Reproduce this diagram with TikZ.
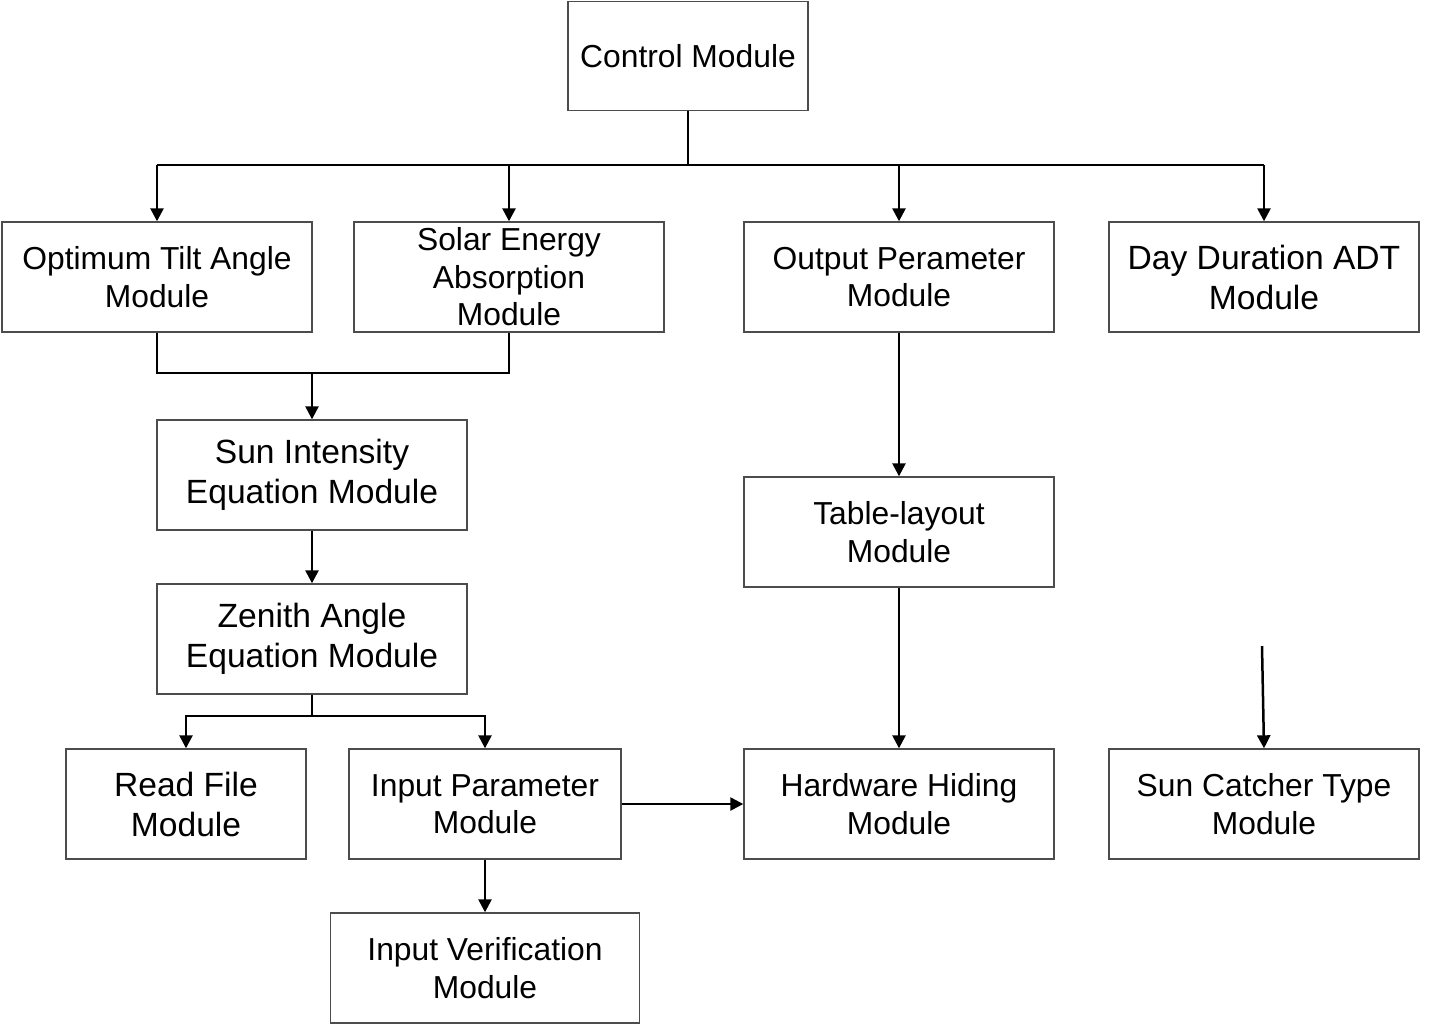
\documentclass[tikz,border=0pt]{standalone}
\usepackage{fontspec}
\setmainfont{Liberation Sans}
\usetikzlibrary{arrows.meta}
\tikzset{
  mod/.style={draw=black!70, line width=0.7pt, fill=white, align=center, inner sep=0pt,
    minimum width=155pt, minimum height=55pt, font=\fontsize{15.9}{18.75}\selectfont},
  modbig/.style={mod, font=\fontsize{16.8}{20}\selectfont},
  conn/.style={draw=black, line width=1.25pt},
  arr/.style={conn, -{Triangle[length=6.5pt,width=6.5pt]}}
}
\begin{document}
\begin{tikzpicture}[x=0.5pt,y=-0.5pt]
\useasboundingbox (0,0) rectangle (1430,1025);
\node[mod, minimum width=120pt, minimum height=54.5pt] (ctrl) at (688,56) {Control Module};
\node[mod] (opt) at (157,277) {Optimum Tilt Angle\\Module};
\node[mod] (sol) at (509,277) {Solar Energy\\Absorption\\Module};
\node[mod] (outp) at (899,277) {Output Perameter\\Module};
\node[modbig] (day) at (1264,277) {Day Duration ADT\\Module};
\node[modbig] (sun) at (312,475) {Sun Intensity\\Equation Module};
\node[mod] (tab) at (899,532) {Table-layout\\Module};
\node[modbig] (zen) at (312,639) {Zenith Angle\\Equation Module};
\node[modbig, minimum width=120pt] (read) at (186,804) {Read File\\Module};
\node[mod, minimum width=136pt] (inp) at (485,804) {Input Parameter\\Module};
\node[mod] (hw) at (899,804) {Hardware Hiding\\Module};
\node[mod] (catch) at (1264,804) {Sun Catcher Type\\Module};
\node[mod, minimum width=154.5pt] (ver) at (485,968) {Input Verification\\Module};

\coordinate (bus) at (688,165);
\coordinate (merge) at (312,373);
\coordinate (split) at (312,716);
\coordinate (free) at (1262,646);

% Control bus
\draw[conn] (ctrl.south) -- (bus);
\draw[conn] (opt.north |- bus) -- (day.north |- bus);
\draw[arr] (opt.north |- bus) -- (opt.north);
\draw[arr] (sol.north |- bus) -- (sol.north);
\draw[arr] (outp.north |- bus) -- (outp.north);
\draw[arr] (day.north |- bus) -- (day.north);

% merge to Sun Intensity
\draw[conn] (opt.south) |- (merge) -| (sol.south);
\draw[arr] (merge) -- (sun.north);

\draw[arr] (sun.south) -- (zen.north);

% split from Zenith
\draw[conn] (zen.south) -- (split);
\draw[arr] (split) -| (read.north);
\draw[arr] (split) -| (inp.north);

\draw[arr] (inp.east) -- (hw.west);
\draw[arr] (inp.south) -- (ver.north);

\draw[arr] (outp.south) -- (tab.north);
\draw[arr] (tab.south) -- (hw.north);

\draw[arr] (free) -- (catch.north);
\end{tikzpicture}
\end{document}
